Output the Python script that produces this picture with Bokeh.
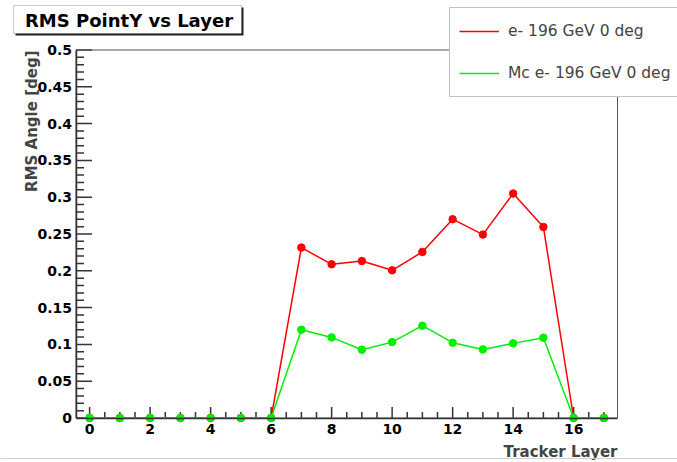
import math
import numpy as np
from bokeh.plotting import figure
from bokeh.models import (Range1d, Label, Legend, LegendItem, SingleIntervalTicker,
                          BoxAnnotation, Span)
from bokeh.embed import file_html
from bokeh.resources import INLINE

layers = list(range(18))
rms_data = [0, 0, 0, 0, 0, 0, 0, 0.2316, 0.2088, 0.2133, 0.2007, 0.2256, 0.2701, 0.2492, 0.3050, 0.2596, 0, 0]
rms_mc = [0, 0, 0, 0, 0, 0, 0, 0.1200, 0.1095, 0.0928, 0.1031, 0.1254, 0.1023, 0.0932, 0.1014, 0.1091, 0, 0]
label_data = "e- 196 GeV 0 deg"
label_mc = "Mc e- 196 GeV 0 deg"
title_text = "RMS PointY vs Layer"
xlabel = "Tracker Layer"
ylabel = "RMS Angle [deg]"

FONT = "DejaVu Sans"
AXC = "#333333"
W, H = 677, 462
# visible axis box (data) and where it sits on the canvas (px)
X0, X1 = -0.45, 17.45
Y0, Y1 = 0.0, 0.5
FL, FR, FT, FB = 75.5, 617.0, 49.5, 417.5

sx = (X1 - X0) / (FR - FL)
sy = (Y1 - Y0) / (FB - FT)

def dx(px):
    return X0 + (px - FL) * sx

def dy(py):
    return Y0 + (FB - py) * sy

p = figure(width=W, height=H, output_backend="svg", toolbar_location=None,
           x_range=Range1d(dx(0), dx(W)), y_range=Range1d(dy(H), dy(0)),
           min_border_left=0, min_border_right=0, min_border_top=0, min_border_bottom=0)
p.background_fill_color = "white"
p.border_fill_color = "white"
p.xgrid.visible = False
p.ygrid.visible = False
p.outline_line_color = None

# axes (lines + labels), drawn at fixed positions inside the canvas
xa, ya = p.xaxis[0], p.yaxis[0]
xa.fixed_location = Y0
ya.fixed_location = X0
xa.bounds = (X0, X1)
ya.bounds = (Y0, Y1)
xa.ticker = SingleIntervalTicker(interval=2, num_minor_ticks=4)
ya.ticker = SingleIntervalTicker(interval=0.05, num_minor_ticks=5)
for ax in (xa, ya):
    ax.major_tick_in = 0
    ax.major_tick_out = 0
    ax.minor_tick_in = 0
    ax.minor_tick_out = 0
    ax.axis_line_color = AXC
    ax.axis_line_width = 1.5
    ax.major_label_text_font = FONT
    ax.major_label_text_font_style = "bold"
    ax.major_label_text_font_size = "14px"
    ax.major_label_text_color = "black"
ya.major_label_standoff = 4
xa.major_label_standoff = 6
ya.formatter.use_scientific = False

# inward tick marks (major/minor), at the axis tick positions
x_major = np.arange(0, 16.01, 2)
x_minor = np.array([v for v in np.arange(0, 17.01, 0.5) if v % 2 != 0])
y_major = np.round(np.arange(0, 0.5001, 0.05), 3)
y_minor = np.array([v for v in np.round(np.arange(0, 0.5001, 0.01), 3) if round(v / 0.05, 6) % 1 != 0])
p.segment(x0=x_major, y0=Y0, x1=x_major, y1=Y0 + 11 * sy, line_color=AXC, line_width=1.5)
p.segment(x0=x_minor, y0=Y0, x1=x_minor, y1=Y0 + 6 * sy, line_color=AXC, line_width=1.5)
p.segment(x0=X0, y0=y_major, x1=X0 + 16 * sx, y1=y_major, line_color=AXC, line_width=1.5)
p.segment(x0=X0, y0=y_minor, x1=X0 + 8 * sx, y1=y_minor, line_color=AXC, line_width=1.5)

# frame top and right edges
p.quad(left=[X0], right=[X1], bottom=[Y0], top=[Y1], fill_color=None,
       line_color="#555555", line_width=1)

# lines and markers
l_red = p.line(layers, rms_data, line_color="#ff0000", line_width=1.5)
p.scatter(layers, rms_data, size=7.5, fill_color="#ff0000", line_color="#ff0000")
l_green = p.line(layers, rms_mc, line_color="#00ee00", line_width=1.5)
p.scatter(layers, rms_mc, size=7.5, fill_color="#00ee00", line_color="#00ee00")

# axis titles
p.add_layout(Label(x=dx(31.5), y=dy(50), text=ylabel, angle=math.pi / 2,
                   text_align="right", text_baseline="middle",
                   text_font=FONT, text_font_style="bold", text_font_size="15px"))
p.add_layout(Label(x=dx(617), y=dy(451), text=xlabel,
                   text_align="right", text_baseline="alphabetic",
                   text_font=FONT, text_font_style="bold", text_font_size="15px"))

# title box with shadow
p.add_layout(BoxAnnotation(left=dx(15), right=dx(243), top=dy(7), bottom=dy(35),
                           fill_color="#222222", fill_alpha=1, line_color=None))
p.add_layout(BoxAnnotation(left=dx(13), right=dx(241), top=dy(5), bottom=dy(33),
                           fill_color="white", fill_alpha=1, line_color="#555555", line_width=1))
p.add_layout(Label(x=dx(128.5), y=dy(19.5), text=title_text, text_align="center", text_baseline="middle",
                   text_font=FONT, text_font_style="bold", text_font_size="18px", text_color="black"))

# legend
legend = Legend(items=[LegendItem(label=label_data, renderers=[l_red]),
                       LegendItem(label=label_mc, renderers=[l_green])],
                location=(449, H - 97), orientation="vertical",
                glyph_width=40, glyph_height=28, label_height=28, label_width=200,
                label_standoff=9, padding=9, spacing=14, margin=0,
                label_text_font=FONT, label_text_font_size="15.5px",
                border_line_color="#888888", border_line_width=1,
                background_fill_color="white", background_fill_alpha=1)
p.add_layout(legend, "center")

# page edge line at the bottom
p.add_layout(Span(location=dy(458), dimension="width", line_color="#d0d0d0", line_width=1))

open("out.html", "w").write(file_html(p, INLINE))
